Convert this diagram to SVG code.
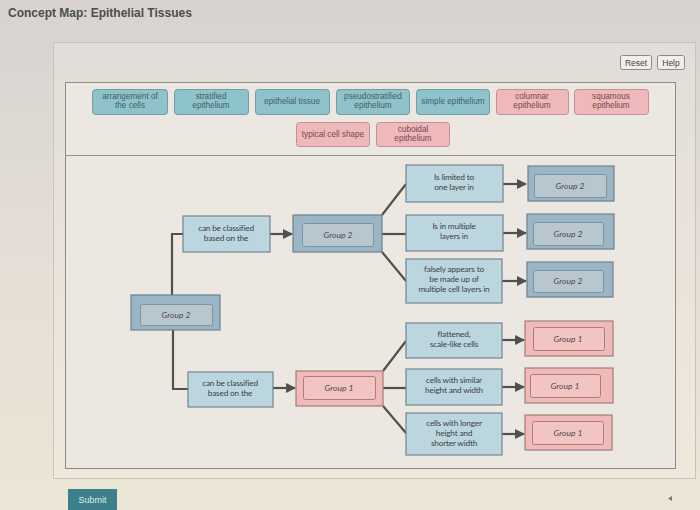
<svg xmlns="http://www.w3.org/2000/svg" width="700" height="510" viewBox="0 0 700 510">
<defs>
<linearGradient id="bg" x1="0" y1="0" x2="0" y2="1">
<stop offset="0" stop-color="#d8d3d0"/>
<stop offset="0.5" stop-color="#e4ded6"/>
<stop offset="1" stop-color="#ece6d6"/>
</linearGradient>
<linearGradient id="card" x1="0" y1="0" x2="0" y2="1">
<stop offset="0" stop-color="#e3ddd9"/>
<stop offset="1" stop-color="#efe9dc"/>
</linearGradient>
<marker id="ah" viewBox="0 0 10 10" refX="9" refY="5" markerWidth="4.5" markerHeight="4.5" orient="auto" markerUnits="strokeWidth">
<path d="M0,0 L10,5 L0,10 z" fill="#4f4f4f"/>
</marker>
<style>
.tt{font-family:"Liberation Sans",Arial,sans-serif;font-size:8.2px;text-anchor:middle}
.teal rect{fill:#8fc3cb;stroke:#6f9ea5;stroke-width:1}
.teal text{fill:#3f5f64}
.pink rect{fill:#efb8bb;stroke:#c39094;stroke-width:1}
.pink text{fill:#744a4d}
.lbl rect{fill:#bcd6e0;stroke:#6e858e;stroke-width:1.2}
.lbl text{font-family:Lato,"Open Sans",sans-serif;font-size:8.3px;fill:#3c4145;text-anchor:middle;letter-spacing:-0.2px}
.g2 .o{fill:#9ab5c6;stroke:#6d818d;stroke-width:1.2}
.g2 .i{fill:#b8c6ce;stroke:#7c93a1;stroke-width:1}
.g1 .o{fill:#efbab8;stroke:#a07e7b;stroke-width:1.2}
.g1 .i{fill:#f2c5c3;stroke:#ad7b79;stroke-width:1}
.grp text{font-family:Lato,"Open Sans",sans-serif;font-style:italic;font-size:8.5px;fill:#4c4c4c;text-anchor:middle}
.con line,.con polyline{stroke:#505050;stroke-width:2.2;fill:none}
.btn rect{fill:#f1efec;stroke:#8a8a8a;stroke-width:1}
.btn text{font-family:"Liberation Sans",Arial,sans-serif;font-size:8.5px;fill:#444;text-anchor:middle}
</style>
</defs>
<rect width="700" height="510" fill="url(#bg)"/>
<text x="8" y="17" font-family="Liberation Sans,Arial,sans-serif" font-weight="bold" font-size="12" fill="#4d4d4d">Concept Map: Epithelial Tissues</text>
<rect x="53.5" y="42.5" width="642" height="436" fill="url(#card)" stroke="#c8c3be" stroke-width="1"/>
<rect x="65.5" y="82.5" width="610" height="386" fill="#ece7e0" stroke="#8e8a86" stroke-width="1"/>
<line x1="66" y1="155.5" x2="675" y2="155.5" stroke="#9a9590" stroke-width="1"/>
<g id="reset" class="btn"><rect x="620.5" y="55.5" width="31" height="14" rx="2"/><text x="636" y="65.5">Reset</text></g>
<g id="help" class="btn"><rect x="657.5" y="55.5" width="27" height="14" rx="2"/><text x="671" y="65.5">Help</text></g>

<g id="bank-arrangement" class="teal tt"><rect x="92.5" y="89.5" width="75" height="25" rx="3"/><text x="130" y="99">arrangement of</text><text x="130" y="108">the cells</text></g>
<g id="bank-stratified" class="teal tt"><rect x="174.5" y="89.5" width="74" height="25" rx="3"/><text x="211" y="99">stratified</text><text x="211" y="108">epithelium</text></g>
<g id="bank-tissue" class="teal tt"><rect x="255.5" y="89.5" width="74" height="25" rx="3"/><text x="292" y="104">epithelial tissue</text></g>
<g id="bank-pseudo" class="teal tt"><rect x="336.5" y="89.5" width="73" height="25" rx="3"/><text x="373" y="99">pseudostratified</text><text x="373" y="108">epithelium</text></g>
<g id="bank-simple" class="teal tt"><rect x="416.5" y="89.5" width="73" height="25" rx="3"/><text x="453" y="104">simple epithelium</text></g>
<g id="bank-columnar" class="pink tt"><rect x="496.5" y="89.5" width="72" height="25" rx="3"/><text x="532" y="99">columnar</text><text x="532" y="108">epithelium</text></g>
<g id="bank-squamous" class="pink tt"><rect x="574.5" y="89.5" width="74" height="25" rx="3"/><text x="611" y="99">squamous</text><text x="611" y="108">epithelium</text></g>
<g id="bank-typical" class="pink tt"><rect x="296.5" y="122.5" width="73" height="24" rx="3"/><text x="333" y="137">typical cell shape</text></g>
<g id="bank-cuboidal" class="pink tt"><rect x="376.5" y="122.5" width="73" height="24" rx="3"/><text x="413" y="132">cuboidal</text><text x="413" y="141">epithelium</text></g>

<g id="connectors" class="con">
<polyline points="172,295 172,234 183,234"/>
<line x1="270" y1="234" x2="292" y2="234" marker-end="url(#ah)"/>
<line x1="382" y1="215" x2="406" y2="184"/>
<line x1="382" y1="234" x2="406" y2="234"/>
<line x1="382" y1="252" x2="406" y2="281"/>
<line x1="503" y1="184" x2="526" y2="184" marker-end="url(#ah)"/>
<line x1="503" y1="233" x2="526" y2="233" marker-end="url(#ah)"/>
<line x1="502" y1="281" x2="526" y2="281" marker-end="url(#ah)"/>
<polyline points="173,330 173,389 188,389"/>
<line x1="273" y1="388" x2="295" y2="388" marker-end="url(#ah)"/>
<line x1="383" y1="371" x2="406" y2="341"/>
<line x1="383" y1="388" x2="406" y2="388"/>
<line x1="383" y1="406" x2="406" y2="433"/>
<line x1="502" y1="340" x2="524" y2="340" marker-end="url(#ah)"/>
<line x1="502" y1="387" x2="524" y2="387" marker-end="url(#ah)"/>
<line x1="502" y1="434" x2="524" y2="434" marker-end="url(#ah)"/>
</g>

<g id="root" class="grp g2"><rect class="o" x="131" y="295" width="89" height="35"/><rect class="i" x="140.5" y="304.5" width="72" height="21" rx="2"/><text x="176" y="318">Group 2</text></g>
<g id="lbl-arr" class="lbl"><rect x="183" y="216" width="87" height="36"/><text x="226" y="231">can be classified</text><text x="226" y="241">based on the</text></g>
<g id="mid-g2" class="grp g2"><rect class="o" x="293" y="215" width="89" height="37"/><rect class="i" x="302.5" y="223.5" width="71" height="23" rx="2"/><text x="338" y="238">Group 2</text></g>
<g id="lbl-one" class="lbl"><rect x="406" y="165" width="97" height="37"/><text x="454" y="180">Is limited to</text><text x="454" y="190">one layer in</text></g>
<g id="lbl-multi" class="lbl"><rect x="406" y="215" width="97" height="36"/><text x="454" y="229">Is in multiple</text><text x="454" y="239">layers in</text></g>
<g id="lbl-false" class="lbl"><rect x="406" y="259" width="96" height="44"/><text x="454" y="272">falsely appears to</text><text x="454" y="282">be made up of</text><text x="454" y="292">multiple cell layers in</text></g>
<g id="g2-a" class="grp g2"><rect class="o" x="528" y="166" width="86" height="35"/><rect class="i" x="534.5" y="174.5" width="72" height="23" rx="2"/><text x="570" y="189">Group 2</text></g>
<g id="g2-b" class="grp g2"><rect class="o" x="527" y="214" width="87" height="35"/><rect class="i" x="533.5" y="222.5" width="70" height="23" rx="2"/><text x="568" y="237">Group 2</text></g>
<g id="g2-c" class="grp g2"><rect class="o" x="527" y="262" width="86" height="35"/><rect class="i" x="533.5" y="270.5" width="70" height="22" rx="2"/><text x="568" y="284">Group 2</text></g>

<g id="lbl-shape" class="lbl"><rect x="188" y="372" width="85" height="35"/><text x="230" y="386">can be classified</text><text x="230" y="396">based on the</text></g>
<g id="mid-g1" class="grp g1"><rect class="o" x="296" y="371" width="87" height="35"/><rect class="i" x="303.5" y="376.5" width="72" height="23" rx="2"/><text x="339" y="391">Group 1</text></g>
<g id="lbl-flat" class="lbl"><rect x="406" y="323" width="96" height="35"/><text x="454" y="337">flattened,</text><text x="454" y="347">scale-like cells</text></g>
<g id="lbl-similar" class="lbl"><rect x="406" y="369" width="96" height="36"/><text x="454" y="383">cells with similar</text><text x="454" y="393">height and width</text></g>
<g id="lbl-longer" class="lbl"><rect x="406" y="413" width="96" height="42"/><text x="454" y="426">cells with longer</text><text x="454" y="436">height and</text><text x="454" y="446">shorter width</text></g>
<g id="g1-a" class="grp g1"><rect class="o" x="525" y="321" width="88" height="35"/><rect class="i" x="533.5" y="327.5" width="71" height="23" rx="2"/><text x="568" y="342">Group 1</text></g>
<g id="g1-b" class="grp g1"><rect class="o" x="525" y="368" width="88" height="35"/><rect class="i" x="530.5" y="374.5" width="70" height="23" rx="2"/><text x="565" y="389">Group 1</text></g>
<g id="g1-c" class="grp g1"><rect class="o" x="525" y="415" width="87" height="35"/><rect class="i" x="532.5" y="421.5" width="71" height="23" rx="2"/><text x="568" y="436">Group 1</text></g>

<g id="submit"><rect x="68" y="489" width="49" height="21" fill="#3d7f8a"/><text x="92.5" y="503" font-family="Liberation Sans,Arial,sans-serif" font-size="9" fill="#dfeef0" text-anchor="middle">Submit</text></g>
<path d="M672,496 L668,498.5 L672,501 z" fill="#777"/>
</svg>
